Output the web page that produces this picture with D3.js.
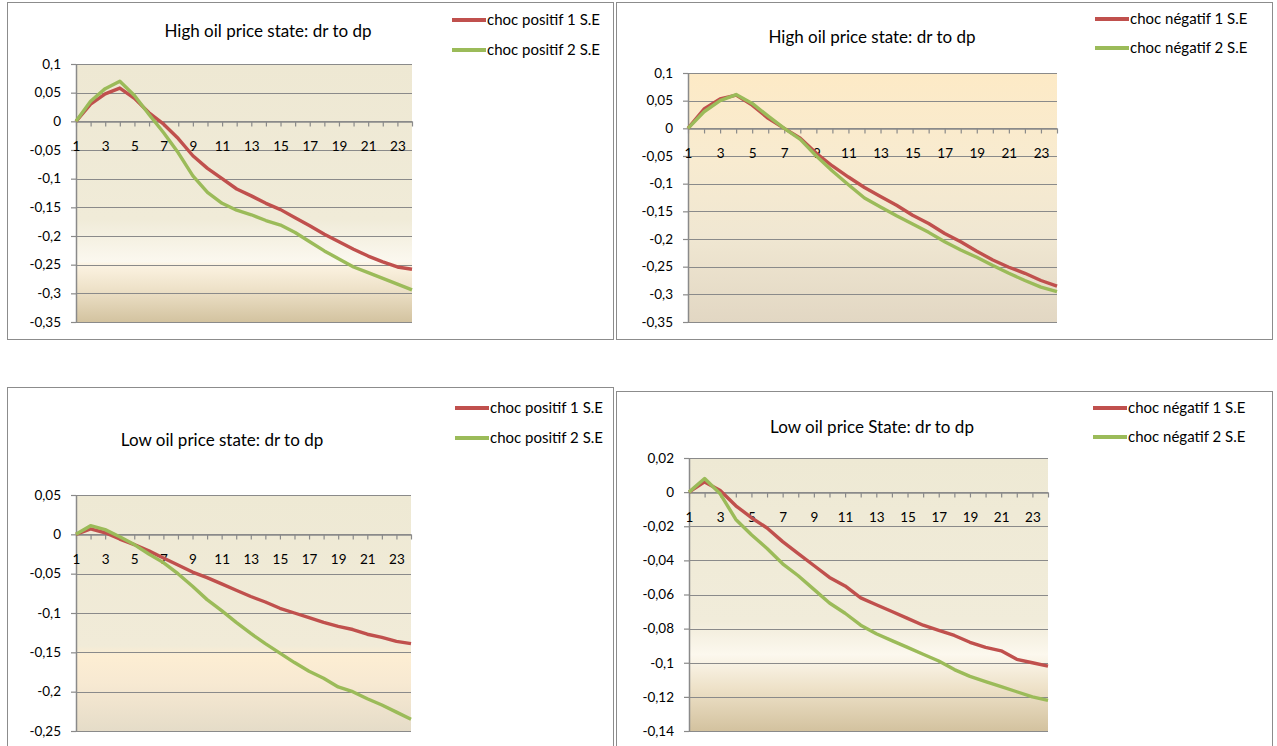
<!DOCTYPE html>
<html>
<head>
<meta charset="utf-8">
<script src="https://cdn.jsdelivr.net/npm/d3@7"></script>
<style>
  html, body { margin: 0; padding: 0; background: #ffffff; }
  svg { display: block; font-family: Lato, "Open Sans", sans-serif; }
</style>
</head>
<body>
<svg id="chart" width="1277" height="746"></svg>
<script>
// Horizon (periods) shared by all four impulse responses
const categories = [1,2,3,4,5,6,7,8,9,10,11,12,13,14,15,16,17,18,19,20,21,22,23,24];
const xTickLabels = [1,3,5,7,9,11,13,15,17,19,21,23];

// High oil price state, positive shocks
const highPos1 = [0, 0.030, 0.048, 0.058, 0.040, 0.015, -0.005, -0.030, -0.060, -0.082, -0.100, -0.118,
                  -0.130, -0.143, -0.154, -0.168, -0.182, -0.197, -0.210, -0.223, -0.235, -0.245, -0.254, -0.258];
const highPos2 = [0, 0.035, 0.057, 0.070, 0.045, 0.012, -0.020, -0.055, -0.095, -0.124, -0.143, -0.155,
                  -0.163, -0.173, -0.181, -0.194, -0.210, -0.226, -0.240, -0.254, -0.264, -0.274, -0.284, -0.294];

// High oil price state, negative shocks
const highNeg1 = [0, 0.035, 0.053, 0.060, 0.042, 0.018, 0.000, -0.018, -0.045, -0.068, -0.088, -0.107,
                  -0.123, -0.139, -0.157, -0.172, -0.190, -0.205, -0.222, -0.238, -0.251, -0.262, -0.275, -0.285];
const highNeg2 = [0, 0.030, 0.050, 0.061, 0.045, 0.022, 0.000, -0.020, -0.050, -0.077, -0.102, -0.126,
                  -0.142, -0.158, -0.173, -0.188, -0.205, -0.220, -0.233, -0.248, -0.262, -0.275, -0.287, -0.295];

// Low oil price state, positive shocks
const lowPos1 = [0, 0.007, 0.002, -0.006, -0.013, -0.021, -0.030, -0.039, -0.048, -0.055, -0.063, -0.071,
                 -0.079, -0.086, -0.094, -0.100, -0.106, -0.112, -0.117, -0.121, -0.127, -0.131, -0.136, -0.139];
const lowPos2 = [0, 0.011, 0.006, -0.003, -0.013, -0.025, -0.036, -0.050, -0.066, -0.083, -0.097, -0.112,
                 -0.126, -0.139, -0.151, -0.163, -0.174, -0.183, -0.194, -0.200, -0.209, -0.217, -0.226, -0.235];

// Low oil price state, negative shocks
const lowNeg1 = [0, 0.006, 0.001, -0.008, -0.015, -0.021, -0.029, -0.036, -0.043, -0.050, -0.055, -0.062,
                 -0.066, -0.070, -0.074, -0.078, -0.081, -0.084, -0.088, -0.091, -0.093, -0.098, -0.100, -0.102];
const lowNeg2 = [0, 0.008, -0.001, -0.016, -0.025, -0.033, -0.042, -0.049, -0.057, -0.065, -0.071, -0.078,
                 -0.083, -0.087, -0.091, -0.095, -0.099, -0.104, -0.108, -0.111, -0.114, -0.117, -0.120, -0.122];

// Value-axis ticks
const yTicksHigh = [0.1, 0.05, 0, -0.05, -0.1, -0.15, -0.2, -0.25, -0.3, -0.35];
const yTicksLowPos = [0.05, 0, -0.05, -0.1, -0.15, -0.2, -0.25];
const yTicksLowNeg = [0.02, 0, -0.02, -0.04, -0.06, -0.08, -0.1, -0.12, -0.14];

// Titles and legend entries
const titles = ["High oil price state: dr to dp", "High oil price state: dr to dp",
                "Low oil price state: dr to dp", "Low oil price State: dr to dp"];
const legendPos = ["choc positif 1 S.E", "choc positif 2 S.E"];
const legendNeg = ["choc négatif 1 S.E", "choc négatif 2 S.E"];

const RED = "#C0504D", GREEN = "#9BBB59", GRID = "#8a8a8a";

// Comma decimal, hyphen minus
const fr = d3.formatLocale({decimal: ",", thousands: " ", grouping: [3], currency: ["", ""], minus: "-"});
const fmt = fr.format(".2~f");

// Layout of each chart box
const panels = [
  { box: [7, 2, 606, 337], plot: [76, 64, 412, 322], ticks: yTicksHigh, series: [highPos1, highPos2], legend: legendPos,
    title: titles[0], titlePos: [268, 31], legX: 452, legY: [20, 50],
    bg: [[0, "#eee8d3"], [0.6, "#f0ebd8"], [0.765, "#fbf8ef"], [0.778, "#fcf3e2"], [0.87, "#eee2c9"], [1, "#d3c3a0"]] },
  { box: [616, 2, 656, 337], plot: [688, 73, 1057, 322], ticks: yTicksHigh, series: [highNeg1, highNeg2], legend: legendNeg,
    title: titles[1], titlePos: [872, 37], legX: 1095, legY: [19, 48],
    bg: [[0, "#fdeac6"], [0.35, "#f8ebd0"], [0.65, "#f0e7d2"], [1, "#e2d7c3"]] },
  { box: [7, 387, 606, 370], plot: [76, 495, 411, 731], ticks: yTicksLowPos, series: [lowPos1, lowPos2], legend: legendPos,
    title: titles[2], titlePos: [222, 440], legX: 455, legY: [408, 438],
    bg: [[0, "#eee9d4"], [0.64, "#f1ebd8"], [0.68, "#fdeed3"], [0.8, "#f7e9d2"], [1, "#e5dcc8"]] },
  { box: [616, 391, 656, 366], plot: [689, 458, 1048, 731], ticks: yTicksLowNeg, series: [lowNeg1, lowNeg2], legend: legendNeg,
    title: titles[3], titlePos: [872, 427], legX: 1093, legY: [408, 437],
    bg: [[0, "#eee9d4"], [0.6, "#f1ecda"], [0.72, "#fcf8ee"], [0.84, "#eee2c9"], [1, "#d3c29f"]] }
];

const svg = d3.select("#chart");
const defs = svg.append("defs");

panels.forEach((p, i) => {
  const [bx, by, bw, bh] = p.box;
  const [px0, py0, px1, py1] = p.plot;
  const g = svg.append("g");

  // chart frame
  g.append("rect").attr("x", bx + 0.5).attr("y", by + 0.5).attr("width", bw).attr("height", bh)
    .attr("fill", "#ffffff").attr("stroke", "#8c8c8c").attr("stroke-width", 1);

  const yMin = d3.min(p.ticks), yMax = d3.max(p.ticks);
  const x = d3.scalePoint().domain(categories).range([px0, px1]);
  const y = d3.scaleLinear().domain([yMin, yMax]).range([py1, py0]);

  // plot-area fill
  const grad = defs.append("linearGradient").attr("id", "bg" + i)
    .attr("x1", 0).attr("y1", 0).attr("x2", 0).attr("y2", 1);
  p.bg.forEach(([o, c]) => grad.append("stop").attr("offset", o).attr("stop-color", c));
  g.append("rect").attr("x", px0).attr("y", y(yMax)).attr("width", px1 - px0).attr("height", y(yMin) - y(yMax))
    .attr("fill", `url(#bg${i})`);

  // horizontal gridlines
  g.append("g").selectAll("line").data(p.ticks).join("line")
    .attr("x1", px0).attr("x2", px1).attr("y1", d => Math.round(y(d)) + 0.5).attr("y2", d => Math.round(y(d)) + 0.5)
    .attr("stroke", GRID).attr("stroke-width", 1.2);

  // value axis
  const yAxis = g.append("g").attr("transform", `translate(${px0},0)`)
    .call(d3.axisLeft(y).tickValues(p.ticks).tickFormat(fmt).tickSizeInner(5).tickSizeOuter(0).tickPadding(10));
  yAxis.select(".domain").attr("stroke", GRID).attr("stroke-width", 1.5);
  yAxis.selectAll(".tick line").attr("stroke", GRID).attr("stroke-width", 1.2);
  yAxis.selectAll(".tick text").attr("font-size", 13.5).attr("fill", "#000").attr("font-family", "Lato, sans-serif");

  // category axis crossing at zero
  const xAxis = g.append("g").attr("transform", `translate(0,${Math.round(y(0)) + 0.5})`)
    .call(d3.axisBottom(x).tickValues(categories)
      .tickFormat(d => xTickLabels.includes(d) ? d : "")
      .tickSizeInner(5).tickSizeOuter(0).tickPadding(15));
  xAxis.select(".domain").attr("stroke", GRID).attr("stroke-width", 1.5);
  xAxis.selectAll(".tick line").attr("stroke", GRID).attr("stroke-width", 1.2);
  xAxis.selectAll(".tick text").attr("font-size", 13.5).attr("fill", "#000").attr("font-family", "Lato, sans-serif");

  // response lines
  const line = d3.line().x((d, k) => x(categories[k])).y(d => y(d));
  [RED, GREEN].forEach((col, k) => {
    g.append("path").datum(p.series[k]).attr("d", line)
      .attr("fill", "none").attr("stroke", col).attr("stroke-width", 3.4)
      .attr("stroke-linejoin", "round").attr("stroke-linecap", "butt");
  });

  // title
  g.append("text").attr("x", p.titlePos[0]).attr("y", p.titlePos[1]).attr("dy", "0.35em")
    .attr("text-anchor", "middle").attr("font-size", 17).attr("fill", "#000").text(p.title);

  // legend
  [RED, GREEN].forEach((col, k) => {
    const ly = p.legY[k];
    g.append("line").attr("x1", p.legX).attr("x2", p.legX + 34).attr("y1", ly).attr("y2", ly)
      .attr("stroke", col).attr("stroke-width", 4);
    g.append("text").attr("x", p.legX + 35).attr("y", ly).attr("dy", "0.35em")
      .attr("font-size", 15).attr("fill", "#000").text(p.legend[k]);
  });
});
</script>
</body>
</html>
